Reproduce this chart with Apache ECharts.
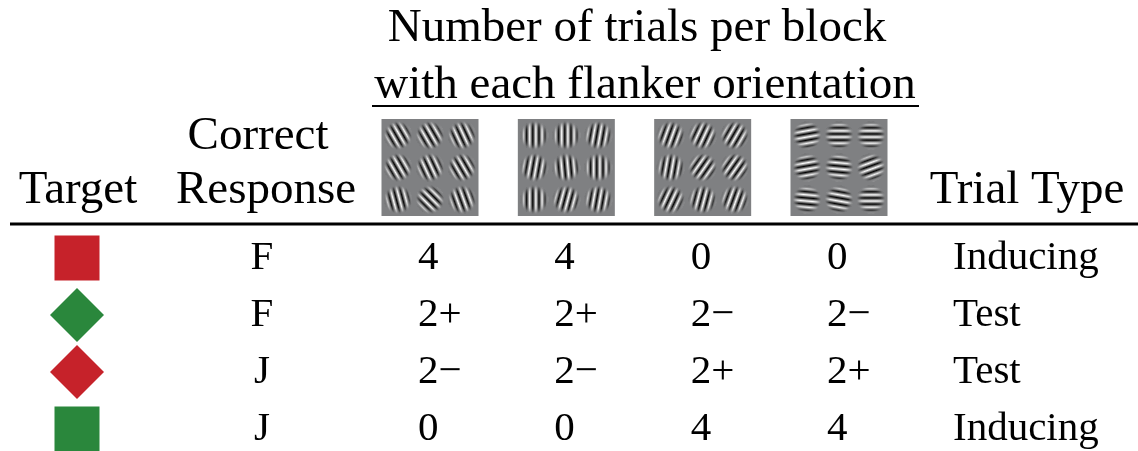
<!DOCTYPE html>
<html><head><meta charset="utf-8">
<script src="https://cdn.jsdelivr.net/npm/echarts@6/dist/echarts.min.js"></script>
<style>html,body{margin:0;padding:0;background:#fff}#chart{width:1138px;height:451px}</style>
</head><body><div id="chart"></div>
<script>
// ---- data ----
const targets = ['red square', 'green diamond', 'red diamond', 'green square'];
const responses = ['F', 'F', 'J', 'J'];
const flankerOrientations = ['tilted left', 'vertical', 'tilted right', 'horizontal'];
const countsTiltedLeft = ['4', '2+', '2−', '0'];
const countsVertical = ['4', '2+', '2−', '0'];
const countsTiltedRight = ['0', '2−', '2+', '4'];
const countsHorizontal = ['0', '2−', '2+', '4'];
const trialTypes = ['Inducing', 'Test', 'Test', 'Inducing'];
const titleLines = ['Number of trials per block', 'with each flanker orientation'];
const headerTarget = 'Target';
const headerResponse = ['Correct', 'Response'];
const headerTrialType = 'Trial Type';
// grating orientation of each of the 9 flankers (deg clockwise from vertical), row-major
const anglesTiltedLeft = [-30, -30, -25, -30, -25, -30, -15, -45, -20];
const anglesVertical = [0, 0, 10, 10, -5, 0, 0, 15, 10];
const anglesTiltedRight = [20, 25, 30, 10, 35, 35, 25, 15, 20];
const anglesHorizontal = [80, 90, 90, 80, 95, 70, 95, 100, 90];

// ---- styles / layout ----
const FONT = '"Liberation Serif","Times New Roman",serif';
const RED = '#c6222a', GREEN = '#2a873c';
const TARGET_STYLE = {
  'red square': { symbol: 'rect', size: 45, color: RED },
  'green diamond': { symbol: 'diamond', size: 54, color: GREEN },
  'red diamond': { symbol: 'diamond', size: 54, color: RED },
  'green square': { symbol: 'rect', size: 45, color: GREEN }
};
const countColumns = [countsTiltedLeft, countsVertical, countsTiltedRight, countsHorizontal];
const angleSets = [anglesTiltedLeft, anglesVertical, anglesTiltedRight, anglesHorizontal];
const rowIdx = targets.map((_, i) => String(i));
const BG_GRAY = [127, 128, 130];
const PANEL = 97, PATCH_STEP = 32, PATCH_R = 14, SEGMENTS = 9, PANEL_Y = 167.5;

const stripeStops = [];
for (let k = 0; k <= SEGMENTS; k++) {
  stripeStops.push({ offset: k / SEGMENTS, color: k % 2 ? '#ffffff' : '#000000' });
}
const g = BG_GRAY.join(',');
const fadeStops = [
  { offset: 0, color: 'rgba(' + g + ',0)' },
  { offset: 0.45, color: 'rgba(' + g + ',0.02)' },
  { offset: 0.65, color: 'rgba(' + g + ',0.2)' },
  { offset: 0.8, color: 'rgba(' + g + ',0.55)' },
  { offset: 0.92, color: 'rgba(' + g + ',0.88)' },
  { offset: 1, color: 'rgba(' + g + ',1)' }
];

function hiddenCat(data, gridIndex, boundaryGap, inverse) {
  return { type: 'category', data: data, gridIndex: gridIndex, boundaryGap: boundaryGap, inverse: !!inverse, show: false };
}

const textLabel = (align, offset) => ({
  show: true, position: 'inside', formatter: '{b}', color: '#000', opacity: 1,
  fontFamily: FONT, fontSize: 41, align: align, verticalAlign: 'middle', offset: offset
});
const invisible = { color: 'rgba(0,0,0,0)', opacity: 1 };

const chart = echarts.init(document.getElementById('chart'), null, { renderer: 'canvas' });
chart.setOption({
  animation: false,
  backgroundColor: '#fff',
  grid: [
    { left: 77, width: 185, top: 258, height: 171 },
    { left: 430, width: 409, top: 258, height: 171 },
    { left: 933, width: 188, top: 258, height: 171 }
  ],
  xAxis: [
    hiddenCat(['Target', 'Correct Response'], 0, false),
    hiddenCat(flankerOrientations, 1, false),
    hiddenCat(['Trial Type'], 2, true)
  ],
  yAxis: [
    hiddenCat(rowIdx, 0, false, true),
    hiddenCat(rowIdx, 1, false, true),
    hiddenCat(rowIdx, 2, false, true)
  ],
  graphic: [
    { type: 'text', x: 637, y: 29, style: { text: titleLines[0], font: '47px ' + FONT, fill: '#000', textAlign: 'center', textVerticalAlign: 'middle', align: 'center', verticalAlign: 'middle' } },
    { type: 'text', x: 645, y: 86, style: { text: titleLines[1], font: '47px ' + FONT, fill: '#000', textAlign: 'center', textVerticalAlign: 'middle', align: 'center', verticalAlign: 'middle' } },
    { type: 'line', shape: { x1: 372, y1: 106, x2: 919, y2: 106 }, style: { stroke: '#000', lineWidth: 2 } },
    { type: 'text', x: 258, y: 137, style: { text: headerResponse[0], font: '47px ' + FONT, fill: '#000', textAlign: 'center', textVerticalAlign: 'middle', align: 'center', verticalAlign: 'middle' } },
    { type: 'text', x: 266, y: 191, style: { text: headerResponse[1], font: '47px ' + FONT, fill: '#000', textAlign: 'center', textVerticalAlign: 'middle', align: 'center', verticalAlign: 'middle' } },
    { type: 'text', x: 78, y: 191, style: { text: headerTarget, font: '47px ' + FONT, fill: '#000', textAlign: 'center', textVerticalAlign: 'middle', align: 'center', verticalAlign: 'middle' } },
    { type: 'text', x: 1027, y: 191, style: { text: headerTrialType, font: '47px ' + FONT, fill: '#000', textAlign: 'center', textVerticalAlign: 'middle', align: 'center', verticalAlign: 'middle' } },
    { type: 'line', shape: { x1: 10, y1: 224, x2: 1138, y2: 224 }, style: { stroke: '#000', lineWidth: 3 } }
  ],
  series: [
    {
      type: 'scatter', xAxisIndex: 0, yAxisIndex: 0, silent: true,
      data: targets.map((t, i) => ({
        name: t, value: [0, i], symbol: TARGET_STYLE[t].symbol,
        symbolSize: TARGET_STYLE[t].size, itemStyle: { color: TARGET_STYLE[t].color, opacity: 1 }
      }))
    },
    {
      type: 'scatter', xAxisIndex: 0, yAxisIndex: 0, silent: true, symbolSize: 1,
      itemStyle: invisible, label: textLabel('center', [0, 0]),
      data: responses.map((r, i) => ({ name: r, value: [1, i] }))
    },
    {
      type: 'scatter', xAxisIndex: 1, yAxisIndex: 1, silent: true, symbolSize: 1,
      itemStyle: invisible, label: textLabel('left', [-12, 0]),
      data: countColumns.flatMap((col, c) => col.map((v, r) => ({ name: v, value: [c, r] })))
    },
    {
      type: 'scatter', xAxisIndex: 2, yAxisIndex: 2, silent: true, symbolSize: 1,
      itemStyle: invisible, label: textLabel('left', [-74, 0]),
      data: trialTypes.map((t, i) => ({ name: t, value: [0, i] }))
    },
    {
      type: 'custom', xAxisIndex: 1, yAxisIndex: 1, silent: true, clip: false,
      data: flankerOrientations.map((o, i) => [i, 0]),
      renderItem: function (params, api) {
        const col = api.value(0);
        const cx = api.coord([col, 0])[0];
        const cy = PANEL_Y;
        const children = [{
          type: 'rect',
          shape: { x: cx - PANEL / 2, y: cy - PANEL / 2, width: PANEL, height: PANEL },
          style: { fill: 'rgb(' + g + ')' }
        }];
        angleSets[col].forEach(function (deg, k) {
          const px = cx + (k % 3 - 1) * PATCH_STEP;
          const py = cy + (Math.floor(k / 3) - 1) * PATCH_STEP;
          children.push({
            type: 'circle', x: px, y: py, rotation: -deg * Math.PI / 180,
            shape: { cx: 0, cy: 0, r: PATCH_R },
            style: { fill: new echarts.graphic.LinearGradient(0, 0.5, 1, 0.5, stripeStops) }
          });
          children.push({
            type: 'circle', shape: { cx: px, cy: py, r: PATCH_R + 0.5 },
            style: { fill: new echarts.graphic.RadialGradient(0.5, 0.5, 0.5, fadeStops) }
          });
        });
        return { type: 'group', children: children };
      }
    }
  ]
});
</script></body></html>
